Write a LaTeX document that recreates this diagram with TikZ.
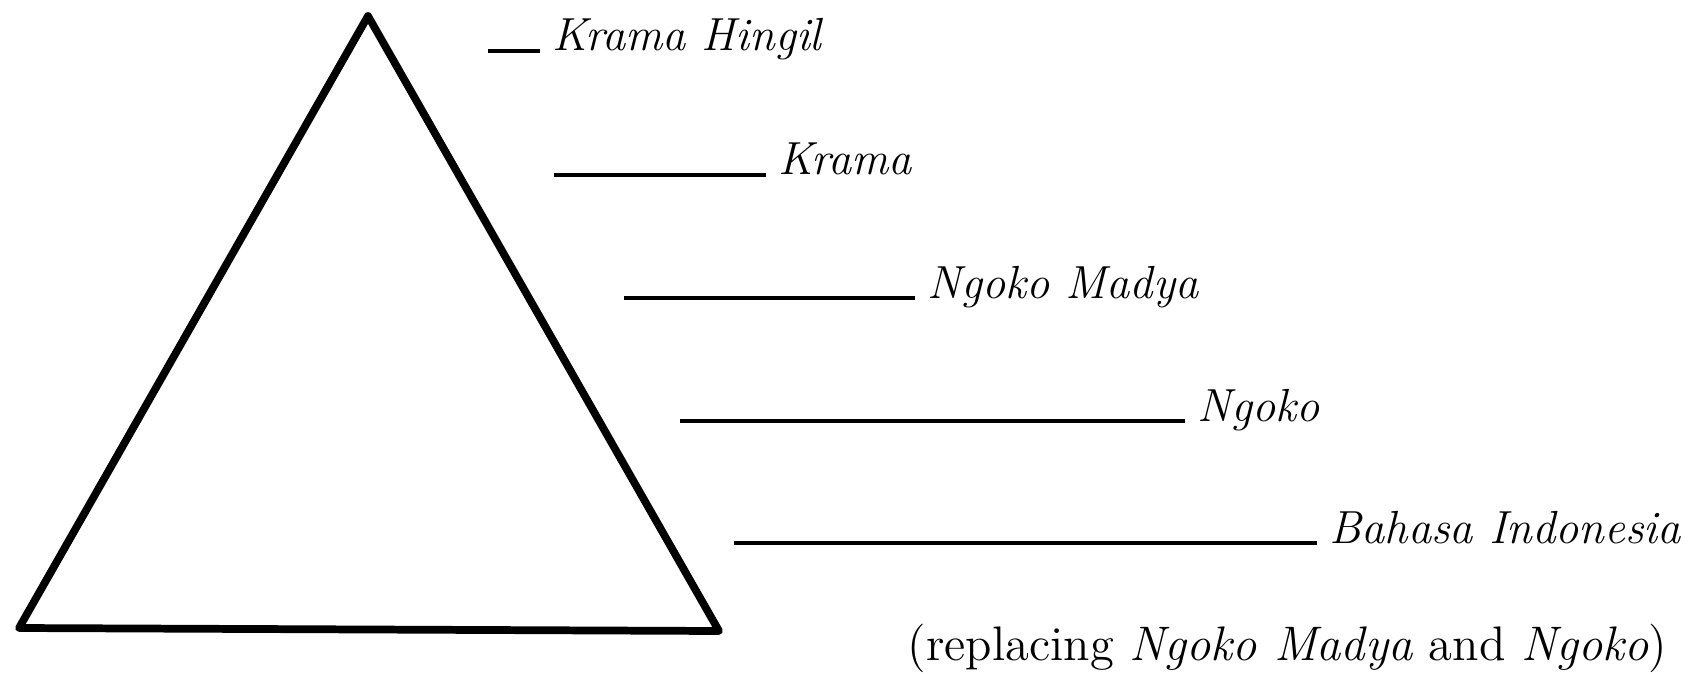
\documentclass[tikz,border=0pt]{standalone}
\begin{document}
\begin{tikzpicture}[x=0.01cm, y=-0.01cm,
  edge/.style={line width=2.2pt, line join=round, line cap=round},
  rung/.style={line width=0.9pt},
  lvl/.style={anchor=base west, inner xsep=1.2mm, inner ysep=0pt, font=\fontsize{13.2}{15}\selectfont\itshape}]
\useasboundingbox (0,0) rectangle (1692,673);
\draw[edge] (368,16) -- (719,631) -- (19,628) -- cycle;
\node[lvl] (hingil) at (540,51) {Krama Hingil};
\node[lvl] (krama) at (766,175) {Krama};
\node[lvl] (madya) at (915,298) {Ngoko Madya};
\node[lvl] (ngoko) at (1185,421) {Ngoko};
\node[lvl] (bahasa) at (1317,543) {Bahasa Indonesia};
\node[lvl, anchor=base east, font=\fontsize{13.8}{16}\selectfont] (note) at (1680,660) {(replacing \textit{Ngoko Madya} and \textit{Ngoko})};
\coordinate (h0) at (488,51);
\coordinate (k0) at (554,175);
\coordinate (m0) at (624,298);
\coordinate (n0) at (680,421);
\coordinate (b0) at (734,543);
\draw[rung] (h0) -- (hingil.base west);
\draw[rung] (k0) -- (krama.base west);
\draw[rung] (m0) -- (madya.base west);
\draw[rung] (n0) -- (ngoko.base west);
\draw[rung] (b0) -- (bahasa.base west);
\end{tikzpicture}
\end{document}
